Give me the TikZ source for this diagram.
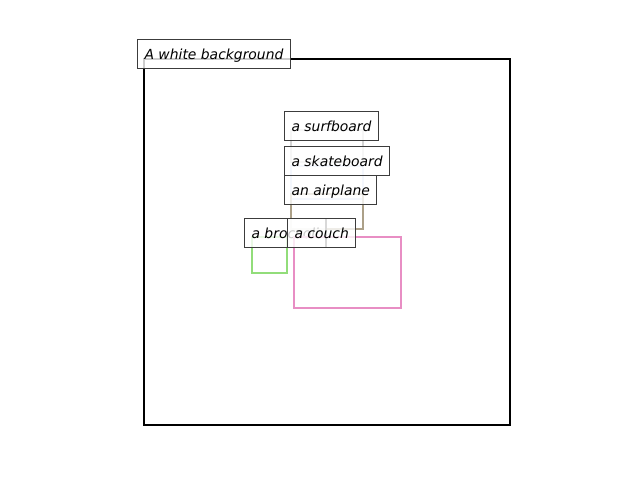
\documentclass[tikz,border=0pt]{standalone}
\usepackage{fontspec}
\newfontfamily\lblfont{DejaVu Sans}
\definecolor{boxgreen}{RGB}{146,221,122}
\definecolor{boxpink}{RGB}{232,142,196}
\definecolor{boxtan}{RGB}{172,160,136}
\definecolor{boxgrey}{RGB}{212,212,212}
\definecolor{boxblue}{RGB}{200,215,245}
\definecolor{lbledge}{RGB}{60,60,60}
\tikzset{
  lbl/.style={anchor=base west, xshift=-5bp, yshift=-1bp, draw=lbledge, line width=0.8bp, fill=white, fill opacity=0.8, text opacity=1,
    inner xsep=5bp, inner ysep=5bp, text height=9bp, text depth=1.5bp,
    font=\lblfont\itshape\fontsize{10bp}{12bp}\selectfont},
  objbox/.style={line width=2bp},
}
\begin{document}
\begin{tikzpicture}[x=0.01in,y=-0.01in]
\useasboundingbox (0,0) rectangle (640,480);
% frame
\draw[line width=1.6bp, black] (144,59) rectangle (510,425);
\node[lbl] (bg) at (144,58) {A white background};
% surfboard
\draw[objbox, boxgrey] (291,130) rectangle (363,162);
\node[lbl] (surf) at (291,130) {a surfboard};
% skateboard
\draw[objbox, boxblue] (291,166) rectangle (363,199);
\node[lbl] (skate) at (291,165) {a skateboard};
% airplane
\draw[objbox, boxtan] (291,194) rectangle (363,229);
\node[lbl] (air) at (291,194) {an airplane};
% broccoli
\draw[objbox, boxgreen] (252,237) rectangle (287,273);
\node[lbl] (broc) at (251,237) {a broccoli};
% couch
\draw[objbox, boxpink] (294,237) rectangle (401,308);
\node[lbl] (couch) at (294,237) {a couch};
\end{tikzpicture}
\end{document}
